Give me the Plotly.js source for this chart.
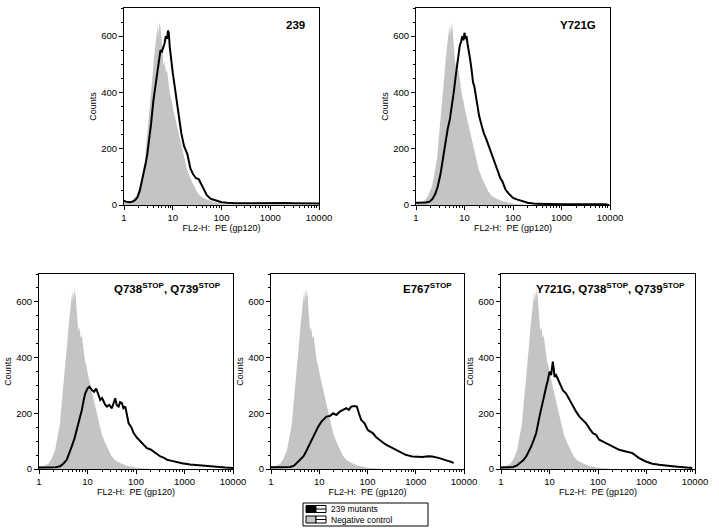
<!DOCTYPE html>
<html>
<head>
<meta charset="utf-8">
<script src="https://cdn.plot.ly/plotly-3.0.1.min.js"></script>
<style>html,body{margin:0;padding:0;background:#fff;}#chart{width:719px;height:531px;}</style>
</head>
<body>
<div id="chart"></div>
<script>
// ---- Data ----
const panelTitles = ['239', 'Y721G', 'Q738<sup>STOP</sup>, Q739<sup>STOP</sup>', 'E767<sup>STOP</sup>', 'Y721G, Q738<sup>STOP</sup>, Q739<sup>STOP</sup>'];
const xTickVals = [1, 10, 100, 1000, 10000];
const xTickText = ['1', '10', '100', '1000', '10000'];
const yTickVals = [0, 200, 400, 600];

// Negative control (grey filled histogram)
const negX = [1, 1.3, 1.56, 1.8, 2.14, 2.4, 2.71, 2.93, 3.2, 3.45, 3.72, 3.9, 4.1, 4.36, 4.55, 4.7, 4.87, 5.0, 5.15, 5.35, 5.5, 5.65, 5.87, 6.1, 6.45, 6.8, 7.2, 7.6, 8.0, 8.4, 8.9, 9.5, 10.2, 11.3, 12.5, 14.3, 16.5, 19.6, 23, 26.9, 31, 37, 43, 50.6, 65, 80, 95, 120, 160, 220];
const negY = [10, 12, 19, 35, 67, 110, 162, 233, 300, 370, 436, 470, 520, 555, 580, 610, 638, 600, 630, 650, 615, 640, 590, 560, 495, 510, 470, 480, 440, 420, 388, 370, 340, 305, 275, 233, 180, 126, 95, 67, 48, 31, 25, 19, 12, 8, 5, 3, 1, 0];

// 239
const m239X = [1, 1.1, 1.3, 1.5, 1.7, 1.9, 2.1, 2.3, 2.5, 2.8, 3, 3.3, 3.6, 4, 4.4, 4.8, 5.2, 5.6, 6, 6.4, 6.8, 7.2, 7.6, 8, 8.3, 8.7, 9.2, 10, 11, 12, 13.5, 15, 17, 20, 23, 26, 30, 34, 38, 42, 50, 60, 70, 85, 100, 130, 200, 400, 800, 1500, 2000, 3000, 6000, 10000];
const m239Y = [15, 12, 10, 12, 18, 28, 50, 80, 110, 150, 180, 230, 290, 370, 420, 470, 510, 550, 545, 560, 575, 600, 590, 620, 610, 560, 520, 470, 420, 380, 310, 255, 210, 180, 130, 110, 95, 92, 75, 58, 35, 22, 18, 13, 10, 8, 6, 6, 7, 8, 7, 6, 6, 5];

// Y721G
const y721X = [1, 1.3, 1.6, 1.9, 2.2, 2.5, 2.8, 3.2, 3.6, 4, 4.5, 5, 5.5, 6, 6.5, 7, 7.5, 8, 8.5, 9, 9.5, 10, 10.5, 11, 11.5, 12, 13, 14, 15, 16, 17, 18, 20, 22, 25, 28, 30, 33, 36, 40, 45, 50, 55, 60, 70, 80, 100, 120, 150, 200, 300, 500, 1000, 3000, 8000, 9500];
const y721Y = [8, 8, 9, 12, 22, 40, 65, 110, 170, 220, 270, 305, 350, 400, 450, 495, 530, 567, 580, 600, 585, 612, 590, 600, 575, 560, 520, 480, 436, 420, 388, 360, 317, 290, 255, 235, 221, 200, 180, 161, 140, 114, 95, 85, 55, 42, 25, 20, 15, 8, 4, 3, 3, 3, 3, 0];

// Q738STOP, Q739STOP
const q738X = [1, 1.5, 2.2, 2.72, 3.2, 3.73, 4.2, 4.74, 5.4, 6.01, 6.8, 7.64, 8.3, 8.95, 10, 11, 12.3, 13.7, 15.1, 16.5, 18.3, 20, 21.4, 23, 25.1, 28, 31.8, 34, 37.3, 40, 43.8, 47, 51.3, 55, 60.1, 65, 70.4, 80, 89.4, 105, 122, 145, 168, 200, 231, 270, 318, 380, 438, 520, 601, 750, 891, 1300, 2140, 3200, 4720, 7000, 10000];
const q738Y = [5, 5, 6, 10, 20, 33, 55, 81, 110, 140, 180, 212, 245, 271, 289, 295, 283, 277, 289, 270, 248, 255, 242, 232, 224, 230, 218, 235, 254, 230, 224, 240, 236, 218, 224, 195, 164, 150, 129, 112, 99, 88, 75, 70, 63, 55, 45, 40, 33, 30, 27, 24, 21, 16, 12, 9, 7, 5, 4];

// E767STOP
const e767X = [1, 1.8, 2.5, 3.0, 3.42, 4.0, 4.69, 5.3, 5.95, 6.7, 7.52, 8.5, 9.52, 11.1, 12.1, 14.1, 16.6, 19.4, 22.7, 26.6, 31.1, 36.4, 41, 46.0, 53.9, 60.3, 66.3, 74.2, 86.8, 101.5, 128.6, 150, 176, 210, 241, 290, 330, 400, 452, 530, 619, 720, 848, 1100, 1372, 1800, 2220, 3050, 4180, 5620, 6090];
const e767Y = [6, 6, 7, 12, 21, 32, 45, 62, 81, 100, 117, 135, 152, 170, 176, 188, 190, 200, 194, 206, 212, 218, 212, 224, 226, 224, 200, 176, 164, 140, 129, 115, 105, 95, 87, 80, 75, 68, 63, 57, 51, 48, 45, 44, 43, 46, 45, 39, 33, 25, 21];

// Y721G, Q738STOP, Q739STOP
const tripX = [1, 1.4, 1.76, 2.1, 2.42, 2.9, 3.31, 3.75, 4.2, 4.75, 5.32, 6.22, 7.29, 8.54, 9.24, 10.0, 10.8, 11.35, 11.7, 12.1, 12.7, 13.7, 16.0, 18.8, 22.0, 25.8, 30.2, 35.4, 41.4, 48.4, 56.7, 66.4, 77.7, 91, 106, 146, 200, 274, 375, 514, 704, 966, 1320, 1820, 3410, 8800];
const tripY = [5, 6, 7, 12, 21, 32, 45, 62, 81, 105, 129, 188, 248, 295, 319, 349, 337, 367, 385, 367, 331, 337, 307, 283, 271, 248, 224, 206, 188, 176, 164, 146, 129, 123, 105, 93, 81, 69, 63, 57, 39, 27, 19, 15, 10, 4];

const mutantX = [m239X, y721X, q738X, e767X, tripX];
const mutantY = [m239Y, y721Y, q738Y, e767Y, tripY];
const legendLabels = ['239 mutants', 'Negative control'];

// ---- Layout geometry (pixels) ----
const W = 719, H = 531;
const boxes = [
  {x0: 124, x1: 319, y0: 8, y1: 205, tx: -12, ty: -9},
  {x0: 416, x1: 610, y0: 8, y1: 205, tx: -12, ty: -9},
  {x0: 39, x1: 233, y0: 274, y1: 469, tx: -10, ty: -5},
  {x0: 271, x1: 464, y0: 274, y1: 469, tx: -10, ty: -5},
  {x0: 501, x1: 695, y0: 274, y1: 469, tx: -8, ty: -5}
];
const px = v => v / W;
const py = v => 1 - v / H;

const fontFam = 'Liberation Sans, Arial, Helvetica, sans-serif';
const greyFill = '#c4c4c4';
const traces = [];
const layout = {
  width: W, height: H,
  margin: {l: 0, r: 0, t: 0, b: 0},
  paper_bgcolor: '#ffffff', plot_bgcolor: '#ffffff',
  showlegend: false,
  font: {family: fontFam, size: 9, color: '#000'},
  annotations: [], shapes: []
};

boxes.forEach((b, i) => {
  const n = i === 0 ? '' : String(i + 1);
  const xa = 'x' + n, ya = 'y' + n;
  traces.push({
    x: negX, y: negY, xaxis: xa, yaxis: ya, type: 'scatter', mode: 'lines',
    fill: 'tozeroy', fillcolor: greyFill, line: {width: 0, color: greyFill},
    name: legendLabels[1], hoverinfo: 'skip'
  });
  traces.push({
    x: mutantX[i], y: mutantY[i], xaxis: xa, yaxis: ya, type: 'scatter', mode: 'lines',
    line: {width: 2, color: '#000'}, name: legendLabels[0]
  });
  layout['xaxis' + n] = {
    type: 'log', range: [0, 4], domain: [px(b.x0), px(b.x1)], anchor: ya,
    showline: true, linecolor: '#000', linewidth: 1, mirror: true,
    ticks: 'outside', ticklen: 4, tickcolor: '#000',
    tickmode: 'array', tickvals: xTickVals, ticktext: xTickText,
    minor: {ticks: 'outside', ticklen: 2, tickcolor: '#000', dtick: 'D1', showgrid: false},
    showgrid: false, zeroline: false,
    tickfont: {size: 9.5, family: fontFam},
    title: {text: 'FL2-H:  PE (gp120)', font: {size: 9, family: fontFam}, standoff: 1}
  };
  layout['yaxis' + n] = {
    range: [0, 700], domain: [py(b.y1), py(b.y0)], anchor: xa,
    showline: true, linecolor: '#000', linewidth: 1, mirror: true,
    ticks: 'outside', ticklen: 4, tickcolor: '#000',
    tickmode: 'array', tickvals: yTickVals,
    minor: {ticks: 'outside', ticklen: 2, tickcolor: '#000', dtick: 50, showgrid: false},
    showgrid: false, zeroline: false,
    tickfont: {size: 9.5, family: fontFam},
    title: {text: 'Counts', font: {size: 9, family: fontFam}, standoff: 3}
  };
  layout.annotations.push({
    xref: xa + ' domain', yref: ya + ' domain', x: 1, y: 1,
    xanchor: 'right', yanchor: 'top', xshift: b.tx, yshift: b.ty,
    text: '<b>' + panelTitles[i] + '</b>', showarrow: false,
    font: {size: 11.5, family: fontFam, color: '#000'}
  });
});

// ---- Legend box (bottom centre) ----
layout.shapes.push({type: 'rect', xref: 'paper', yref: 'paper', x0: px(303), x1: px(428), y0: py(526), y1: py(503), line: {color: '#000', width: 1}, fillcolor: 'rgba(0,0,0,0)'});
const legRows = [{yc: 509, fill: '#000'}, {yc: 519.5, fill: greyFill}];
legRows.forEach((r, k) => {
  layout.shapes.push({type: 'rect', xref: 'paper', yref: 'paper', x0: px(306), x1: px(316), y0: py(r.yc + 3.5), y1: py(r.yc - 3.5), line: {color: '#000', width: 1}, fillcolor: r.fill});
  layout.shapes.push({type: 'rect', xref: 'paper', yref: 'paper', x0: px(316), x1: px(326), y0: py(r.yc + 3.5), y1: py(r.yc - 3.5), line: {color: '#000', width: 1}, fillcolor: '#fff'});
  layout.shapes.push({type: 'line', xref: 'paper', yref: 'paper', x0: px(316), x1: px(326), y0: py(r.yc), y1: py(r.yc), line: {color: '#000', width: 1}});
  layout.annotations.push({xref: 'paper', yref: 'paper', x: px(329), y: py(r.yc), xanchor: 'left', yanchor: 'middle', text: legendLabels[k], showarrow: false, font: {size: 8.5, family: fontFam, color: '#000'}});
});

Plotly.newPlot('chart', traces, layout, {staticPlot: true, displayModeBar: false});
</script>
</body>
</html>
